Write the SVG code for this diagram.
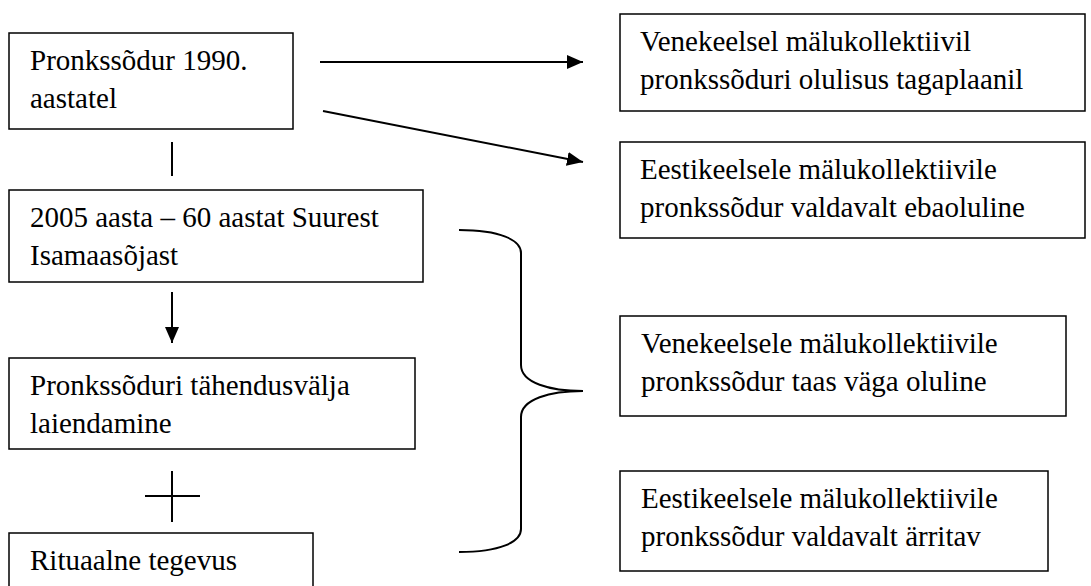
<svg xmlns="http://www.w3.org/2000/svg" width="1091" height="586" viewBox="0 0 1091 586">
  <style>
    .box { fill: #ffffff; stroke: #000000; stroke-width: 1.5; }
    .t { font-family: "Liberation Serif", "Times New Roman", serif; font-size: 29px; fill: #000000; }
    .ln { fill: none; stroke: #000000; stroke-width: 2; }
    .arr { fill: none; stroke: #000000; stroke-width: 2; marker-end: url(#ah); }
  </style>
  <defs>
    <marker id="ah" markerUnits="userSpaceOnUse" markerWidth="16" markerHeight="14" refX="16" refY="7" orient="auto">
      <path d="M0,0 L16,7 L0,14 z" fill="#000000"/>
    </marker>
  </defs>
  <rect width="1091" height="586" fill="#ffffff"/>

  <g id="n1">
    <rect class="box" x="9" y="33" width="284" height="96"/>
    <text class="t" x="30" y="70">Pronkssõdur 1990.</text>
    <text class="t" x="30" y="108">aastatel</text>
  </g>
  <g id="n2">
    <rect class="box" x="9" y="190" width="414" height="92"/>
    <text class="t" x="30" y="227">2005 aasta – 60 aastat Suurest</text>
    <text class="t" x="30" y="265">Isamaasõjast</text>
  </g>
  <g id="n3">
    <rect class="box" x="9" y="358" width="406" height="91"/>
    <text class="t" x="30" y="395">Pronkssõduri tähendusvälja</text>
    <text class="t" x="30" y="433">laiendamine</text>
  </g>
  <g id="n4">
    <rect class="box" x="9" y="533" width="304" height="100"/>
    <text class="t" x="30" y="570">Rituaalne tegevus</text>
  </g>
  <g id="n5">
    <rect class="box" x="620" y="14" width="465" height="97"/>
    <text class="t" x="640" y="51">Venekeelsel mälukollektiivil</text>
    <text class="t" x="640" y="89">pronkssõduri olulisus tagaplaanil</text>
  </g>
  <g id="n6">
    <rect class="box" x="620" y="142" width="465" height="96"/>
    <text class="t" x="640" y="179">Eestikeelsele mälukollektiivile</text>
    <text class="t" x="640" y="217">pronkssõdur valdavalt ebaoluline</text>
  </g>
  <g id="n7">
    <rect class="box" x="620" y="316" width="446" height="100"/>
    <text class="t" x="641" y="353">Venekeelsele mälukollektiivile</text>
    <text class="t" x="641" y="391">pronkssõdur taas väga oluline</text>
  </g>
  <g id="n8">
    <rect class="box" x="620" y="471" width="428" height="100"/>
    <text class="t" x="641" y="508">Eestikeelsele mälukollektiivile</text>
    <text class="t" x="641" y="546">pronkssõdur valdavalt ärritav</text>
  </g>

  <g id="connectors">
    <line class="arr" x1="320" y1="62" x2="583" y2="62"/>
    <line class="arr" x1="323" y1="111" x2="583" y2="162"/>
    <line class="ln" x1="172" y1="142" x2="172" y2="176"/>
    <line class="arr" x1="172" y1="292" x2="172" y2="343"/>
    <line class="ln" x1="145" y1="496" x2="200" y2="496" stroke-width="2.5"/>
    <line class="ln" x1="172" y1="471" x2="172" y2="522" stroke-width="2.5"/>
    <path class="ln" d="M459,230 C500,230 521,240 521,253 L521,365 C521,383 550,391 583,391 C550,391 521,399 521,417 L521,529 C521,542 500,552 459,552"/>
  </g>
</svg>
